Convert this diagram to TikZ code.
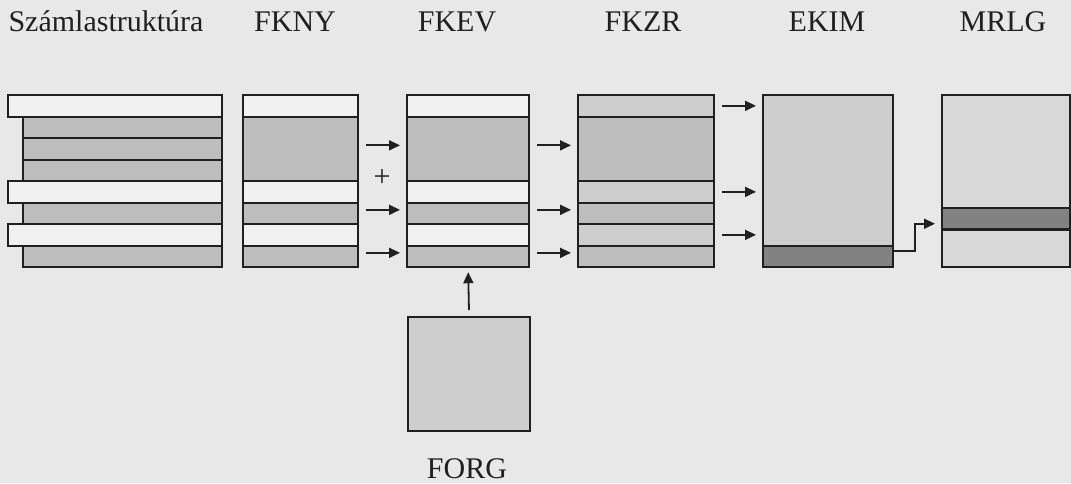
\documentclass[tikz,border=0pt]{standalone}
\usepackage{fontspec}
\setmainfont{Liberation Serif}
\usetikzlibrary{arrows.meta,positioning,calc}
\definecolor{Paper}{HTML}{E8E8E8}
\definecolor{Blank}{HTML}{F1F1F1}
\definecolor{Hatch}{HTML}{BEBEBE}
\definecolor{Dots}{HTML}{CECECE}
\definecolor{Pale}{HTML}{D9D9D9}
\definecolor{Dark}{HTML}{828282}
\definecolor{Ink}{HTML}{202020}

\begin{document}
\begin{tikzpicture}[x=1pt,y=-1pt,every node/.style={font=\fontsize{30}{30}\selectfont,text=Ink},
  rowbox/.style={draw=Ink,line width=2.2pt,inner sep=0pt,anchor=north west,minimum height=#1*21.5pt},
  flow/.style={draw=Ink,line width=1.8pt,-{Triangle[length=11pt,width=10pt]},shorten <=7pt,shorten >=6pt}]
  \fill[Paper] (0,0) rectangle (1071,483);
  \useasboundingbox (0,0) rectangle (1071,483);
  % headings
  \node[anchor=base west] (szlbl) at (5,31) {Számlastruktúra};
  \foreach \n/\x/\t in {nylbl/295/FKNY,evlbl/457/FKEV,zrlbl/643/FKZR,kilbl/827/EKIM,mrlbl/1003/MRLG}{\node[anchor=base] (\n) at (\x,31) {\t};}
  % Számlastruktúra
  \foreach \i in {1,2,3,5,7}{\node[rowbox=1,fill=Hatch,minimum width=199pt] (sz\i) at (22,{94+21.5*\i}) {};}
  \foreach \i in {0,4,6}{\node[rowbox=1,fill=Blank,minimum width=214pt] (sz\i) at (7,{94+21.5*\i}) {};}
  % FKNY, FKEV, FKZR
  \foreach \t/\h/\f in {0/1/Blank,1/3/Hatch,4/1/Blank,5/1/Hatch,6/1/Blank,7/1/Hatch}{
    \node[rowbox=\h,fill=\f,minimum width=115pt] (ny\t) at (242,{94+21.5*\t}) {};
    \node[rowbox=\h,fill=\f,minimum width=122pt] (ev\t) at (406,{94+21.5*\t}) {};
  }
  \foreach \t/\h/\f in {0/1/Dots,1/3/Hatch,4/1/Dots,5/1/Hatch,6/1/Dots,7/1/Hatch}{
    \node[rowbox=\h,fill=\f,minimum width=136pt] (zr\t) at (577,{94+21.5*\t}) {};
  }
  % EKIM, MRLG
  \foreach \t/\h/\f in {0/7/Dots,7/1/Dark}{\node[rowbox=\h,fill=\f,minimum width=130pt] (ki\t) at (762,{94+21.5*\t}) {};}
  \foreach \t/\s/\h/\f in {0/0/5.25/Pale,1/5.25/1/Dark,2/6.25/1.75/Pale}{
    \node[rowbox=\h,fill=\f,minimum width=128pt] (mr\t) at (941,{94+21.5*\s}) {};
  }
  % FORG
  \node[draw=Ink,line width=2.2pt,fill=Dots,inner sep=0pt,anchor=north west,minimum width=122pt,minimum height=114pt] (forg) at (407,316) {};
  \node[anchor=base] (forglbl) at (467,478) {FORG};
  \node (plus) at (382,178) {+};
  % arrows
  \foreach \r in {1,5,7}{
    \draw[flow] ([yshift=3.5pt]ny\r.east) -- ([yshift=3.5pt]ny\r.east -| ev\r.west);
    \draw[flow] ([yshift=3.5pt]ev\r.east) -- ([yshift=3.5pt]ev\r.east -| zr\r.west);
  }
  \foreach \r in {0,4,6}{\draw[flow] (zr\r.east) -- (zr\r.east -| ki0.west);}
  \draw[flow,shorten <=0pt] ([yshift=5pt]ki7.east) -- ++(21,0) |- ([yshift=-5pt]mr1.west);
  \draw[flow,shorten <=6pt,shorten >=4pt] (forg.north) -- (ev7.south);
\end{tikzpicture}
\end{document}
